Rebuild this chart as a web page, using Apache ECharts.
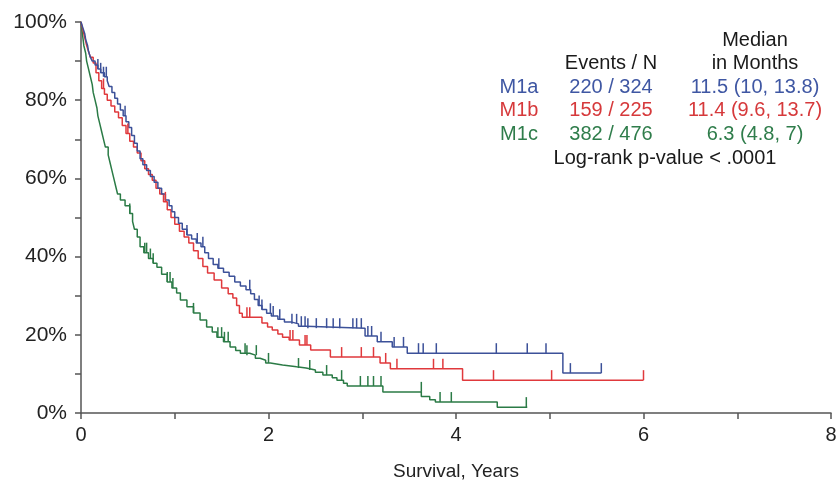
<!DOCTYPE html>
<html>
<head>
<meta charset="utf-8">
<script src="https://cdn.jsdelivr.net/npm/echarts@6/dist/echarts.min.js"></script>
<style>
  html, body { margin: 0; padding: 0; background: #fff; }
  #chart { width: 840px; height: 489px; }
</style>
</head>
<body>
<div id="chart"></div>
<script>
// Kaplan-Meier curves: [years, survival %]
const m1aCurve = [
  [0, 100], [0.02, 98.5], [0.04, 97], [0.05, 95.5], [0.07, 94], [0.08, 92.5], [0.1, 91], [0.12, 90],
  [0.15, 89], [0.18, 88], [0.21, 87], [0.25, 86], [0.28, 85], [0.3, 83.5], [0.33, 82], [0.36, 80.5],
  [0.39, 79], [0.42, 77.5], [0.45, 76], [0.48, 74.5], [0.51, 73], [0.54, 71], [0.57, 69], [0.6, 67],
  [0.63, 65], [0.66, 63.5], [0.7, 62], [0.74, 60.5], [0.78, 59], [0.82, 57.5], [0.86, 56], [0.9, 54.5],
  [0.94, 53], [0.97, 51.5], [1.0, 50], [1.04, 48.5], [1.08, 47], [1.13, 45.5], [1.18, 44.5], [1.23, 43.5],
  [1.28, 42.5], [1.32, 41], [1.36, 39.5], [1.41, 38], [1.46, 37], [1.52, 36], [1.58, 35], [1.64, 33.5],
  [1.7, 32.5], [1.76, 31.5], [1.81, 30.5], [1.85, 29], [1.89, 27.5], [1.93, 26.5], [1.98, 25.5], [2.03, 24.8],
  [2.1, 24], [2.17, 23.3], [2.24, 22.8], [2.32, 22.2], [2.4, 21.7], [3.03, 19.7], [3.16, 18.2], [3.32, 16.9],
  [3.48, 15.3], [5.14, 10.2], [5.55, 10.2]
];
const m1bCurve = [
  [0, 100], [0.02, 98], [0.04, 96], [0.06, 94], [0.08, 92.5], [0.1, 91], [0.13, 89.5], [0.16, 87],
  [0.19, 85], [0.22, 83], [0.25, 81.5], [0.28, 80], [0.32, 78.5], [0.36, 77], [0.4, 75.5], [0.44, 73.5],
  [0.48, 71.5], [0.52, 69.5], [0.56, 68], [0.6, 66.5], [0.64, 64.5], [0.68, 62.5], [0.72, 61], [0.76, 59.5],
  [0.8, 57.5], [0.84, 56], [0.88, 54], [0.92, 52], [0.96, 50], [1.0, 48.3], [1.05, 46.5], [1.1, 45],
  [1.15, 43.5], [1.2, 41.5], [1.25, 39.5], [1.3, 37.5], [1.35, 35.8], [1.42, 34], [1.5, 32], [1.57, 30.5],
  [1.62, 29.4], [1.66, 27.5], [1.69, 25.5], [1.72, 24.5], [1.93, 23], [1.99, 22], [2.04, 21.2], [2.1, 20.2],
  [2.15, 19.4], [2.22, 18.7], [2.33, 17.4], [2.45, 16.1], [2.66, 14.3], [3.19, 12.8], [3.3, 11.3], [4.07, 8.4],
  [6.0, 8.4]
];
const m1cCurve = [
  [0, 100], [0.01, 98], [0.02, 96], [0.03, 94], [0.05, 92], [0.06, 90], [0.08, 88], [0.1, 86],
  [0.12, 84], [0.13, 82], [0.15, 80], [0.17, 78], [0.18, 76], [0.2, 74], [0.22, 72], [0.24, 70],
  [0.26, 68], [0.29, 66], [0.31, 64], [0.33, 62], [0.35, 60], [0.37, 58], [0.39, 56], [0.42, 54.5],
  [0.47, 53], [0.52, 51], [0.55, 49], [0.57, 47], [0.6, 45], [0.63, 42.5], [0.67, 41], [0.72, 39.5],
  [0.77, 38.3], [0.81, 37.3], [0.86, 35.5], [0.92, 33.5], [0.97, 32], [1.02, 30.7], [1.06, 28.9], [1.13, 27.2],
  [1.2, 25.6], [1.27, 23.8], [1.34, 22], [1.4, 20.7], [1.45, 19.4], [1.52, 18.2], [1.59, 16.9], [1.65, 16],
  [1.7, 15.3], [1.8, 14.8], [1.86, 14], [1.91, 13.5], [1.97, 12.8], [2.02, 12.3], [2.15, 11.8], [2.3, 11.5],
  [2.4, 11], [2.5, 10.4], [2.58, 9.7], [2.68, 9], [2.73, 8.4], [2.8, 7.6], [2.84, 6.9], [3.22, 5.4],
  [3.63, 4.2], [3.72, 3.4], [3.78, 2.8], [4.44, 1.5], [4.76, 1.5]
];

// censored observations
const m1aCensor = [
  [0.18, 88], [0.21, 87], [0.24, 86], [0.27, 86], [0.47, 76], [1.13, 45.5], [1.24, 43.5], [1.3, 42.5],
  [1.47, 37], [1.8, 31.5], [1.9, 27.5], [1.93, 26.5], [2.02, 25.5], [2.05, 24.8], [2.12, 24], [2.25, 22.8],
  [2.3, 22.8], [2.35, 22.2], [2.39, 22.2], [2.42, 21.7], [2.51, 21.7], [2.62, 21.7], [2.69, 21.7], [2.76, 21.7],
  [2.9, 21.7], [2.94, 21.7], [2.99, 21.7], [3.06, 19.7], [3.1, 19.7], [3.2, 18.2], [3.34, 16.9], [3.44, 16.9],
  [3.6, 15.3], [3.65, 15.3], [3.79, 15.3], [4.43, 15.3], [4.76, 15.3], [4.96, 15.3], [5.22, 10.2], [5.55, 10.2]
];
const m1bCensor = [
  [0.24, 83], [0.5, 71.5], [0.9, 54], [1.77, 24.5], [1.8, 24.5], [2.23, 18.7], [2.26, 18.7], [2.39, 17.4],
  [2.41, 17.4], [2.78, 14.3], [2.99, 14.3], [3.12, 14.3], [3.25, 12.8], [3.37, 11.3], [3.76, 11.3], [3.86, 11.3],
  [4.4, 8.4], [5.02, 8.4], [6.0, 8.4]
];
const m1cCensor = [
  [0.52, 51], [0.68, 41], [0.7, 41], [0.74, 39.5], [0.77, 38.3], [0.92, 33.5], [0.95, 33.5], [0.98, 32],
  [1.2, 25.6], [1.46, 19.4], [1.5, 19.4], [1.53, 18.2], [1.57, 18.2], [1.75, 15.3], [1.77, 14.8], [1.87, 14.8],
  [2.0, 12.8], [2.32, 11.5], [2.44, 11], [2.62, 9.7], [2.78, 8.4], [2.98, 6.9], [3.06, 6.9], [3.12, 6.9],
  [3.2, 6.9], [3.63, 5.4], [3.83, 2.8], [3.95, 2.8], [4.75, 1.5]
];

const groups = ['M1a', 'M1b', 'M1c'];
const eventsN = ['220 / 324', '159 / 225', '382 / 476'];
const medians = ['11.5 (10, 13.8)', '11.4 (9.6, 13.7)', '6.3 (4.8, 7)'];
const pText = 'Log-rank p-value < .0001';

const lineColors = ['#3c5199', '#e0393c', '#2b7b46'];
const textColors = ['#3f57a3', '#d6393b', '#2f7d4b'];
const font = "'Liberation Sans', Arial, sans-serif";

const chart = echarts.init(document.getElementById('chart'));

function kmLine(data, color) {
  return {
    type: 'line',
    step: 'end',
    data: data,
    showSymbol: false,
    silent: true,
    animation: false,
    lineStyle: { color: color, width: 1.5 },
    z: 2
  };
}
function censorMarks(data, color) {
  return {
    type: 'scatter',
    data: data,
    symbol: 'rect',
    symbolSize: [1.5, 10],
    symbolOffset: [0, -5],
    silent: true,
    animation: false,
    itemStyle: { color: color, opacity: 1 },
    z: 3
  };
}

// legend table in the upper right
const colEvents = 611;
const colMedian = 755;
const rowY = [87, 110, 134];
const tableText = [
  { type: 'text', x: colMedian, y: 40, style: { text: 'Median', fill: '#1a1a1a' } },
  { type: 'text', x: colMedian, y: 63, style: { text: 'in Months', fill: '#1a1a1a' } },
  { type: 'text', x: colEvents, y: 63, style: { text: 'Events / N', fill: '#1a1a1a' } },
  { type: 'text', x: 665, y: 158, style: { text: pText, fill: '#1a1a1a' } }
];
groups.forEach((g, i) => {
  tableText.push({ type: 'text', x: 519, y: rowY[i], style: { text: g, fill: textColors[i] } });
  tableText.push({ type: 'text', x: colEvents, y: rowY[i], style: { text: eventsN[i], fill: textColors[i] } });
  tableText.push({ type: 'text', x: colMedian, y: rowY[i], style: { text: medians[i], fill: textColors[i] } });
});
tableText.forEach(t => {
  t.style.font = '20px ' + font;
  t.style.textAlign = 'center';
  t.style.textVerticalAlign = 'middle';
});

chart.setOption({
  backgroundColor: '#ffffff',
  animation: false,
  grid: {
    left: 81,
    right: 9,
    top: 22,
    bottom: 76
  },
  xAxis: {
    type: 'value',
    min: 0,
    max: 8,
    interval: 1,
    name: 'Survival, Years',
    nameLocation: 'middle',
    nameGap: 49,
    nameTextStyle: { fontSize: 19, color: '#222', fontFamily: font },
    axisLine: { show: true, lineStyle: { color: '#555', width: 1.5 } },
    axisTick: { show: true, length: 6, lineStyle: { color: '#555', width: 1.5 } },
    splitLine: { show: false },
    axisLabel: {
      margin: 12,
      fontSize: 20,
      color: '#222',
      fontFamily: font,
      formatter: v => (v % 2 === 0 ? String(v) : '')
    }
  },
  yAxis: {
    type: 'value',
    min: 0,
    max: 100,
    interval: 10,
    axisLine: { show: true, lineStyle: { color: '#555', width: 1.5 } },
    axisTick: { show: true, length: 6, lineStyle: { color: '#555', width: 1.5 } },
    splitLine: { show: false },
    axisLabel: {
      margin: 14,
      fontSize: 21,
      color: '#222',
      fontFamily: font,
      formatter: v => (v % 20 === 0 ? v + '%' : '')
    }
  },
  series: [
    kmLine(m1cCurve, lineColors[2]),
    kmLine(m1bCurve, lineColors[1]),
    kmLine(m1aCurve, lineColors[0]),
    censorMarks(m1cCensor, lineColors[2]),
    censorMarks(m1bCensor, lineColors[1]),
    censorMarks(m1aCensor, lineColors[0])
  ],
  graphic: tableText
});
</script>
</body>
</html>
